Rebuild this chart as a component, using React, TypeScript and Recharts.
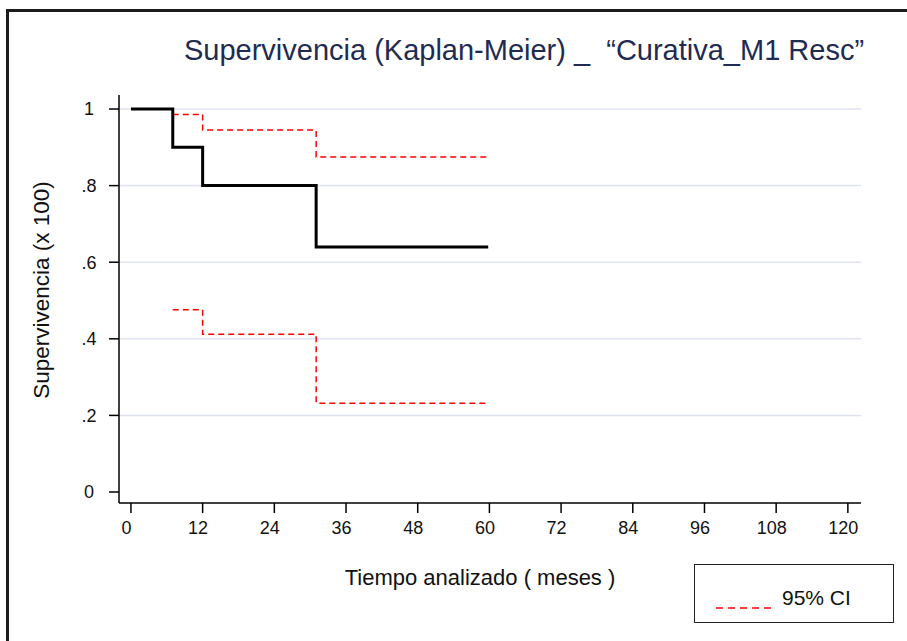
import React from 'react';
import { LineChart, Line, XAxis, YAxis, CartesianGrid, Legend } from 'recharts';

// Kaplan-Meier estimate (months, survival)
const months = [0, 7, 12, 31, 59.8];
const survival = [1, 0.9, 0.8, 0.64, 0.64];
const upperCI = [null, 0.986, 0.945, 0.875, 0.875];
const lowerCI = [null, 0.476, 0.412, 0.232, 0.232];

const xTicks = [0, 12, 24, 36, 48, 60, 72, 84, 96, 108, 120];
const yTicks = [0, 0.2, 0.4, 0.6, 0.8, 1];
const gridValues = [0.2, 0.4, 0.6, 0.8, 1];

const data = months.map((m, i) => ({
  t: m,
  km: survival[i],
  hi: upperCI[i],
  lo: lowerCI[i],
}));

const font = '"Liberation Sans", Arial, sans-serif';

const fmtY = (v: number) => (v === 0 || v === 1 ? String(v) : String(v).replace(/^0/, ''));

const XTick = (props: any) => {
  const { x, y, payload } = props;
  return (
    <text x={x - 4.5} y={y} dy="0.71em" textAnchor="middle" fill="#111" fontSize={18} fontFamily={font}>
      {payload.value}
    </text>
  );
};

const YTick = (props: any) => {
  const { x, y, payload } = props;
  return (
    <text x={x - 20} y={y} dy="0.355em" textAnchor="middle" fill="#111" fontSize={18} fontFamily={font}>
      {fmtY(payload.value)}
    </text>
  );
};

const LegendBox = () => (
  <div
    style={{
      position: 'absolute',
      left: 694,
      top: 564,
      width: 200,
      height: 59,
      border: '1.5px solid #222',
      boxSizing: 'border-box',
      background: '#fff',
    }}
  >
    <svg width={60} height={10} style={{ position: 'absolute', left: 20, top: 38 }}>
      <line x1={1} y1={5} x2={56} y2={5} stroke="#ff0000" strokeWidth={1.5} strokeDasharray="7 5" />
    </svg>
    <span
      style={{
        position: 'absolute',
        left: 87,
        top: 21,
        fontSize: 21,
        lineHeight: 'normal',
        fontFamily: font,
        color: '#111',
        whiteSpace: 'pre',
      }}
    >
      95% CI
    </span>
  </div>
);

export default function App() {
  return (
    <div
      style={{
        position: 'absolute',
        left: 0,
        top: 0,
        width: 907,
        height: 641,
        background: '#fff',
        overflow: 'hidden',
        fontFamily: font,
      }}
    >
      <div
        style={{
          position: 'absolute',
          left: 6,
          top: 9,
          width: 920,
          height: 660,
          borderTop: '3px solid #1c1c1c',
          borderLeft: '3px solid #1c1c1c',
        }}
      />
      <div
        style={{
          position: 'absolute',
          left: 0,
          width: 1048,
          top: 34,
          textAlign: 'center',
          fontSize: 29,
          lineHeight: 'normal',
          color: '#1f2b52',
          whiteSpace: 'pre',
        }}
      >
        {'Supervivencia (Kaplan-Meier) _  “Curativa_M1 Resc”'}
      </div>
      <div
        style={{
          position: 'absolute',
          left: 42 - 150,
          top: 290 - 14,
          width: 300,
          height: 28,
          lineHeight: '28px',
          textAlign: 'center',
          fontSize: 22.5,
          color: '#111',
          transform: 'rotate(-90deg)',
          whiteSpace: 'pre',
        }}
      >
        Supervivencia (x 100)
      </div>
      <div
        style={{
          position: 'absolute',
          left: 480 - 200,
          width: 400,
          top: 565,
          textAlign: 'center',
          fontSize: 22,
          lineHeight: 'normal',
          color: '#111',
          whiteSpace: 'pre',
        }}
      >
        Tiempo analizado ( meses )
      </div>

      <div style={{ position: 'absolute', left: 0, top: 0 }}>
        <LineChart width={907} height={641} data={data} margin={{ top: 95, right: 46, left: 59, bottom: 98 }}>
          <CartesianGrid vertical={false} horizontalValues={gridValues} stroke="#dfe3f0" strokeWidth={1.5} />
          <XAxis
            dataKey="t"
            type="number"
            domain={[-2, 122.2]}
            ticks={xTicks}
            allowDataOverflow
            height={40}
            tickSize={10}
            tickMargin={8}
            axisLine={{ stroke: '#000', strokeWidth: 1.5 }}
            tickLine={{ stroke: '#000', strokeWidth: 1.5 }}
            tick={<XTick />}
            interval={0}
          />
          <YAxis
            type="number"
            domain={[-0.0287, 1.0366]}
            ticks={yTicks}
            allowDataOverflow
            width={60}
            tickSize={10}
            tickMargin={0}
            axisLine={{ stroke: '#000', strokeWidth: 1.5 }}
            tickLine={{ stroke: '#000', strokeWidth: 1.5 }}
            tick={<YTick />}
            interval={0}
          />
          <Line
            type="stepAfter"
            dataKey="hi"
            stroke="#ff0000"
            strokeWidth={1.5}
            strokeDasharray="6 4"
            dot={false}
            activeDot={false}
            isAnimationActive={false}
            legendType="none"
          />
          <Line
            type="stepAfter"
            dataKey="lo"
            stroke="#ff0000"
            strokeWidth={1.5}
            strokeDasharray="6 4"
            dot={false}
            activeDot={false}
            isAnimationActive={false}
            legendType="none"
          />
          <Line
            type="stepAfter"
            dataKey="km"
            stroke="#000"
            strokeWidth={3}
            dot={false}
            activeDot={false}
            isAnimationActive={false}
            legendType="none"
          />
          <Legend content={() => <LegendBox />} wrapperStyle={{ position: 'absolute', left: 0, top: 0, width: 0, height: 0 }} />
        </LineChart>
      </div>
    </div>
  );
}
